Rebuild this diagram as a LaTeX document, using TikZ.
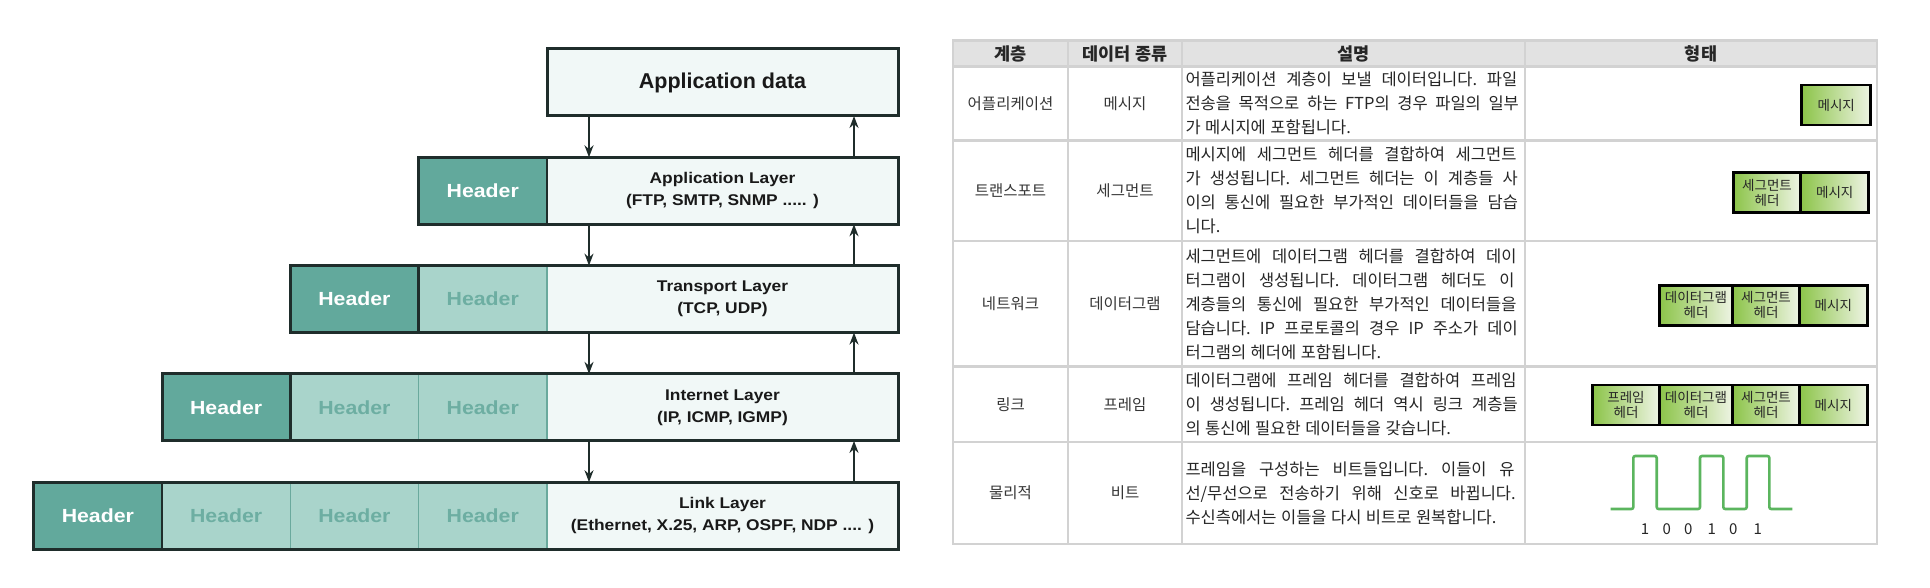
\documentclass[tikz,border=0pt]{standalone}
\usepackage{fontspec}
\setmainfont{Liberation Sans}
\newfontfamily\hd[FakeStretch=1.12]{Liberation Sans}
\newfontfamily\kr{Noto Sans CJK KR}
\usetikzlibrary{arrows.meta}
\definecolor{darkcell}{HTML}{62A99C}
\definecolor{lightcell}{HTML}{A9D4CB}
\definecolor{lighttext}{HTML}{6DAEA2}
\definecolor{datacell}{HTML}{F1F8F7}
\definecolor{frame}{HTML}{1F2D2B}
\definecolor{septeal}{HTML}{6AA99D}
\definecolor{grid}{HTML}{D2D2D2}
\definecolor{headfill}{HTML}{E2E2E2}
\definecolor{txt}{HTML}{262626}
\definecolor{txtb}{HTML}{363636}
\definecolor{gA}{HTML}{8CC449}
\definecolor{gB}{HTML}{EEF4E4}
\definecolor{wave}{HTML}{5BB55E}
\newcommand\dsp{\frenchspacing\spaceskip=4.5pt plus 40pt minus 1.5pt\relax}
\tikzset{
  cell/.style={inner sep=0pt, outer sep=0pt, anchor=north west, minimum height=67pt},
  dk/.style={cell, fill=darkcell, minimum width=128.3pt, text=white, font=\hd\bfseries\fontsize{19}{22}\selectfont},
  lt/.style={cell, fill=lightcell, minimum width=128.3pt, text=lighttext, font=\hd\bfseries\fontsize{19}{22}\selectfont},
  datab/.style={cell, fill=datacell, minimum width=351pt, align=center, text=black!90, font=\hd\bfseries\fontsize{15.5}{22}\selectfont},
  frm/.style={draw=frame, line width=3pt},
  sepd/.style={draw=frame, line width=2.5pt},
  sept/.style={draw=septeal, line width=1.2pt},
  arr/.style={-{Stealth[length=12pt,width=9pt]}, line width=1.8pt, draw=frame},
  tc/.style={draw=grid, line width=2.8pt, inner sep=0pt, outer sep=0pt, anchor=north west, text=txtb, font=\kr\fontsize{15.5}{24}\selectfont},
  th/.style={tc, fill=headfill, text=txt, font=\kr\bfseries\fontsize{17.5}{18}\selectfont},
  desc/.style={tc, text=txt, text width=336pt, inner xsep=3.5pt, font=\kr\fontsize{16.5}{24}\selectfont},
  pk/.style={draw=black, line width=2.6pt, left color=gA, right color=gB, inner sep=0pt, outer sep=0pt, minimum height=40pt, anchor=north west, text=txt, font=\kr\fontsize{13.5}{15}\selectfont, align=center},
  bit/.style={text=txt, font=\kr\fontsize{15}{16}\selectfont, inner sep=0pt}
}
\begin{document}
\begin{tikzpicture}[x=1pt,y=-1pt]
\useasboundingbox (0,0) rectangle (1930,588);
\fill[white] (0,0) rectangle (1930,588);

% ---------- left: layered encapsulation ----------
\node[datab, font=\bfseries\fontsize{21.5}{24}\selectfont] (d0) at (547,49) {Application data};
\draw[frm] (d0.north west) rectangle (d0.south east);

\node[dk] (r1a) at (418.6,157.3) {Header};
\node[datab] (d1) at (547,157.3) {Application Layer\\(FTP, SMTP, SNMP ..... )};
\draw[sepd] (r1a.north east) -- (r1a.south east);
\draw[frm] (r1a.north west) rectangle (d1.south east);

\node[dk] (r2a) at (290.3,265.6) {Header};
\node[lt] (r2b) at (418.6,265.6) {Header};
\node[datab] (d2) at (547,265.6) {Transport Layer\\(TCP, UDP)};
\draw[sepd] (r2a.north east) -- (r2a.south east);
\draw[sept] (r2b.north east) -- (r2b.south east);
\draw[frm] (r2a.north west) rectangle (d2.south east);

\node[dk] (r3a) at (162,373.9) {Header};
\node[lt] (r3b) at (290.3,373.9) {Header};
\node[lt] (r3c) at (418.6,373.9) {Header};
\node[datab] (d3) at (547,373.9) {Internet Layer\\(IP, ICMP, IGMP)};
\draw[sepd] (r3a.north east) -- (r3a.south east);
\draw[sept] (r3b.north east) -- (r3b.south east);
\draw[sept] (r3c.north east) -- (r3c.south east);
\draw[frm] (r3a.north west) rectangle (d3.south east);

\node[dk] (r4a) at (33.7,482.2) {Header};
\node[lt] (r4b) at (162,482.2) {Header};
\node[lt] (r4c) at (290.3,482.2) {Header};
\node[lt] (r4d) at (418.6,482.2) {Header};
\node[datab] (d4) at (547,482.2) {Link Layer\\(Ethernet, X.25, ARP, OSPF, NDP .... )};
\draw[sepd] (r4a.north east) -- (r4a.south east);
\draw[sept] (r4b.north east) -- (r4b.south east);
\draw[sept] (r4c.north east) -- (r4c.south east);
\draw[sept] (r4d.north east) -- (r4d.south east);
\draw[frm] (r4a.north west) rectangle (d4.south east);

\coordinate (dx) at (589,0);
\coordinate (ux) at (854,0);
\foreach \a/\b in {d0/d1,d1/d2,d2/d3,d3/d4}{
  \draw[arr] (\a.south -| dx) -- (\b.north -| dx);
  \draw[arr] (\b.north -| ux) -- (\a.south -| ux);
}

% ---------- right: table ----------
\node[th, minimum width=115pt, minimum height=25.9pt] (h1) at (953,40.6) {계층};
\node[th, minimum width=114pt, minimum height=25.9pt] (h2) at (1068,40.6) {데이터 종류};
\node[th, minimum width=343pt, minimum height=25.9pt] (h3) at (1182,40.6) {설명};
\node[th, minimum width=352pt, minimum height=25.9pt] (h4) at (1525,40.6) {형태};

% row 1
\node[tc, minimum width=115pt, minimum height=73.8pt] (a1) at (953,66.5) {어플리케이션};
\node[tc, minimum width=114pt, minimum height=73.8pt] (b1) at (1068,66.5) {메시지};
\node[desc, minimum height=73.8pt] (c1) at (1182,66.5) {\dsp 어플리케이션 계층이 보낼 데이터입니다. 파일\linebreak 전송을 목적으로 하는 FTP의 경우 파일의 일부\linebreak 가 메시지에 포함됩니다.};
\node[tc, minimum width=352pt, minimum height=73.8pt] (e1) at (1525,66.5) {};
% row 2
\node[tc, minimum width=115pt, minimum height=100.7pt] (a2) at (953,140.3) {트랜스포트};
\node[tc, minimum width=114pt, minimum height=100.7pt] (b2) at (1068,140.3) {세그먼트};
\node[desc, minimum height=100.7pt] (c2) at (1182,140.3) {\dsp 메시지에 세그먼트 헤더를 결합하여 세그먼트\linebreak 가 생성됩니다. 세그먼트 헤더는 이 계층들 사\linebreak 이의 통신에 필요한 부가적인 데이터들을 담습\linebreak 니다.};
\node[tc, minimum width=352pt, minimum height=100.7pt] (e2) at (1525,140.3) {};
% row 3
\node[tc, minimum width=115pt, minimum height=125.8pt] (a3) at (953,241) {네트워크};
\node[tc, minimum width=114pt, minimum height=125.8pt] (b3) at (1068,241) {데이터그램};
\node[desc, minimum height=125.8pt] (c3) at (1182,241) {\dsp 세그먼트에 데이터그램 헤더를 결합하여 데이\linebreak 터그램이 생성됩니다. 데이터그램 헤더도 이\linebreak 계층들의 통신에 필요한 부가적인 데이터들을\linebreak 담습니다. IP 프로토콜의 경우 IP 주소가 데이\linebreak 터그램의 헤더에 포함됩니다.};
\node[tc, minimum width=352pt, minimum height=125.8pt] (e3) at (1525,241) {};
% row 4
\node[tc, minimum width=115pt, minimum height=75.1pt] (a4) at (953,366.8) {링크};
\node[tc, minimum width=114pt, minimum height=75.1pt] (b4) at (1068,366.8) {프레임};
\node[desc, minimum height=75.1pt] (c4) at (1182,366.8) {\dsp 데이터그램에 프레임 헤더를 결합하여 프레임\linebreak 이 생성됩니다. 프레임 헤더 역시 링크 계층들\linebreak 의 통신에 필요한 데이터들을 갖습니다.};
\node[tc, minimum width=352pt, minimum height=75.1pt] (e4) at (1525,366.8) {};
% row 5
\node[tc, minimum width=115pt, minimum height=102.1pt] (a5) at (953,441.9) {물리적};
\node[tc, minimum width=114pt, minimum height=102.1pt] (b5) at (1068,441.9) {비트};
\node[desc, minimum height=102.1pt] (c5) at (1182,441.9) {\dsp 프레임을 구성하는 비트들입니다. 이들이 유\linebreak 선/무선으로 전송하기 위해 신호로 바뀝니다.\linebreak 수신측에서는 이들을 다시 비트로 원복합니다.};
\node[tc, minimum width=352pt, minimum height=102.1pt] (e5) at (1525,441.9) {};

% packets
\node[pk, minimum width=69pt] (m1) at (1801.7,85) {메시지};

\node[pk, minimum width=67.4pt] (s2) at (1733.3,172.7) {세그먼트\\헤더};
\node[pk, minimum width=68pt] (m2) at (1800.7,172.7) {메시지};

\node[pk, minimum width=73.4pt] (g3) at (1659.3,285.3) {데이터그램\\헤더};
\node[pk, minimum width=66.6pt] (s3) at (1732.7,285.3) {세그먼트\\헤더};
\node[pk, minimum width=68pt] (m3) at (1799.3,285.3) {메시지};

\node[pk, minimum width=66.6pt] (f4) at (1592.7,385) {프레임\\헤더};
\node[pk, minimum width=73.4pt] (g4) at (1659.3,385) {데이터그램\\헤더};
\node[pk, minimum width=66.6pt] (s4) at (1732.7,385) {세그먼트\\헤더};
\node[pk, minimum width=68pt] (m4) at (1799.3,385) {메시지};

% bit waveform
\draw[wave, line width=2.6pt, rounded corners=2pt]
  (1610.7,509) -- (1633.3,509) -- (1633.3,456) -- (1656.7,456) -- (1656.7,509)
  -- (1700,509) -- (1700,456) -- (1723.3,456) -- (1723.3,509)
  -- (1746.7,509) -- (1746.7,456) -- (1769.3,456) -- (1769.3,509) -- (1792.3,509);
\node[bit] (b1n) at (1645,529.3) {1};
\node[bit] (b2n) at (1666.7,529.3) {0};
\node[bit] (b3n) at (1688.3,529.3) {0};
\node[bit] (b4n) at (1711.7,529.3) {1};
\node[bit] (b5n) at (1733.3,529.3) {0};
\node[bit] (b6n) at (1757.7,529.3) {1};
\end{tikzpicture}
\end{document}
